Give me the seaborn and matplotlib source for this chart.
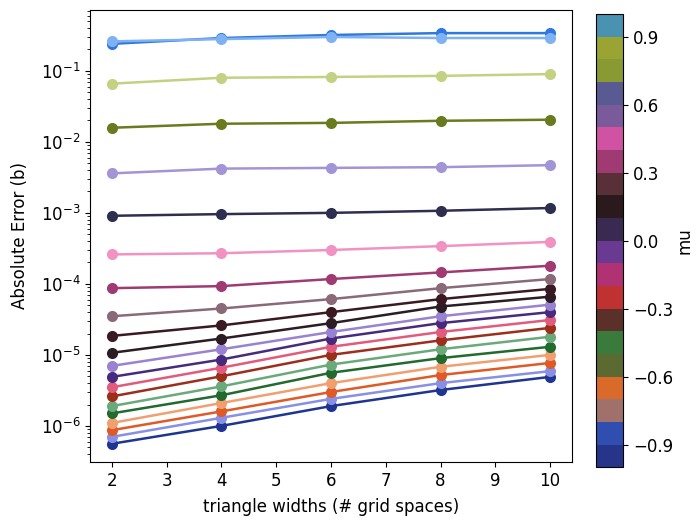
import numpy as np
import pandas as pd
import matplotlib
matplotlib.use("Agg")
import matplotlib.pyplot as plt
import matplotlib.colors as mcolors
import matplotlib.cm as cm
import seaborn as sns

widths = [2, 4, 6, 8, 10]
mu_values = [-1.0, -0.9, -0.8, -0.7, -0.6, -0.5, -0.4, -0.3, -0.2, -0.1,
             0.0, 0.1, 0.2, 0.3, 0.4, 0.5, 0.6, 0.7, 0.8, 0.9, 1.0]

errors = [
    [5.6e-7, 1.0e-6, 1.9e-6, 3.2e-6, 4.9e-6],
    [7.0e-7, 1.3e-6, 2.4e-6, 4.0e-6, 5.9e-6],
    [8.7e-7, 1.6e-6, 3.0e-6, 5.2e-6, 7.7e-6],
    [1.1e-6, 2.1e-6, 4.0e-6, 6.8e-6, 1.0e-5],
    [1.5e-6, 2.7e-6, 5.6e-6, 9.0e-6, 1.3e-5],
    [1.9e-6, 3.6e-6, 7.3e-6, 1.2e-5, 1.8e-5],
    [2.6e-6, 5.0e-6, 1.0e-5, 1.6e-5, 2.4e-5],
    [3.5e-6, 6.6e-6, 1.3e-5, 2.1e-5, 3.1e-5],
    [4.9e-6, 8.6e-6, 1.7e-5, 2.8e-5, 4.0e-5],
    [7.0e-6, 1.2e-5, 2.1e-5, 3.5e-5, 5.1e-5],
    [1.07e-5, 1.7e-5, 2.8e-5, 4.8e-5, 6.6e-5],
    [1.85e-5, 2.6e-5, 4.0e-5, 6.1e-5, 8.5e-5],
    [3.5e-5, 4.5e-5, 6.1e-5, 8.7e-5, 1.17e-4],
    [8.7e-5, 9.3e-5, 1.17e-4, 1.45e-4, 1.8e-4],
    [2.6e-4, 2.7e-4, 3.0e-4, 3.4e-4, 3.9e-4],
    [9.1e-4, 9.6e-4, 1.0e-3, 1.07e-3, 1.17e-3],
    [3.6e-3, 4.2e-3, 4.3e-3, 4.4e-3, 4.7e-3],
    [0.0158, 0.018, 0.0185, 0.0198, 0.0205],
    [0.066, 0.080, 0.082, 0.085, 0.090],
    [0.24, 0.29, 0.32, 0.34, 0.34],
    [0.26, 0.28, 0.30, 0.29, 0.29],
]

line_colors = ["#1f3592", "#8890e6", "#df5a26", "#f0a070", "#236a2e", "#6aaa7a",
               "#9c2e1c", "#e25a7c", "#472a7e", "#9a82d2", "#2c1c24", "#3a1a22",
               "#8a6a78", "#a03a72", "#f292c2", "#2e2e4e", "#a394d6", "#6a7a1e",
               "#c2d282", "#2f78e0", "#7fb2f2"]

cbar_colors = ["#26348a", "#2f4eb0", "#a0706a", "#da6a2a", "#5a6a30", "#3a7a3a",
               "#5a3028", "#c03232", "#b03272", "#6a3a92", "#3a2a52", "#2a1a1e",
               "#5a3038", "#a03a72", "#d052a2", "#7a5a9a", "#5a5a92", "#8a9a32",
               "#9aa432", "#4a92b2"]

rows = []
for m, errs in zip(mu_values, errors):
    for w, e in zip(widths, errs):
        rows.append({"w": w, "err": e, "mu": m})
df = pd.DataFrame(rows)
palette = {m: c for m, c in zip(mu_values, line_colors)}

fig = plt.figure(figsize=(6.98, 5.25), dpi=100)
ax = fig.add_axes([0.129, 0.12, 0.6905, 0.861])
sns.lineplot(data=df, x="w", y="err", hue="mu", palette=palette, marker="o",
             markersize=8, markeredgewidth=0, linewidth=1.8, legend=False,
             ax=ax, estimator=None)
ax.set_yscale("log")
ax.set_xlim(1.6, 10.4)
ax.set_ylim(3.1e-7, 0.72)
ax.set_xticks([2, 3, 4, 5, 6, 7, 8, 9, 10])
ax.set_xlabel("triangle widths (# grid spaces)", fontsize=12, labelpad=6)
ax.set_ylabel("Absolute Error (b)", fontsize=12, labelpad=8)
ax.tick_params(labelsize=12)

cax = fig.add_axes([0.854, 0.11, 0.0387, 0.863])
cmap = mcolors.ListedColormap(cbar_colors)
norm = mcolors.Normalize(vmin=-1, vmax=1)
sm = cm.ScalarMappable(norm=norm, cmap=cmap)
cb = fig.colorbar(sm, cax=cax, ticks=[-0.9, -0.6, -0.3, 0.0, 0.3, 0.6, 0.9])
cb.ax.tick_params(labelsize=12)
cb.set_label("mu", fontsize=12, labelpad=2)

fig.savefig("out.png", dpi=100)
